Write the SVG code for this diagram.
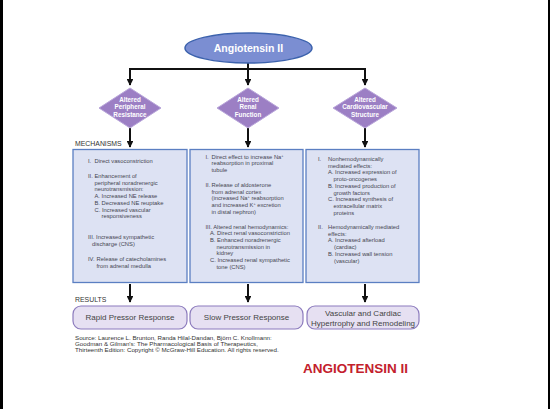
<svg xmlns="http://www.w3.org/2000/svg" width="550" height="409" viewBox="0 0 550 409">
<defs>
<style>
.t{font-family:"Liberation Sans",Arial,sans-serif;font-size:5.8px;fill:#464652}
.d{font-family:"Liberation Sans",Arial,sans-serif;font-size:6.3px;font-weight:bold;fill:#ffffff;text-anchor:middle}
.lbl{font-family:"Liberation Sans",Arial,sans-serif;font-size:6.9px;fill:#333}
.res{font-family:"Liberation Sans",Arial,sans-serif;font-size:8px;fill:#444;text-anchor:middle}
.src{font-family:"Liberation Sans",Arial,sans-serif;font-size:6.2px;fill:#333}
.box{fill:#dde2f3;stroke:#5b7fc2;stroke-width:1.3}
.rbox{fill:#e6e0f2;stroke:#8c7bbd;stroke-width:1.2}
.dia{fill:#9c7fc4;stroke:#b9a6da;stroke-width:1}
.ln{stroke:#111;stroke-width:2;fill:none}
</style>
<marker id="ah" viewBox="0 0 10 10" refX="9" refY="5" markerWidth="3.4" markerHeight="3.4" orient="auto" markerUnits="strokeWidth">
<path d="M0,0 L10,5 L0,10 z" fill="#111"/>
</marker>
</defs>
<rect x="0" y="0" width="550" height="409" fill="#ffffff"/>
<rect x="0" y="0" width="3" height="409" fill="#000"/>
<rect x="548" y="0" width="2" height="409" fill="#000"/>

<g id="connectors">
<path class="ln" d="M248,63 V69 M129,69 H365"/>
<path class="ln" d="M130,68 V85" marker-end="url(#ah)"/>
<path class="ln" d="M248,68 V85" marker-end="url(#ah)"/>
<path class="ln" d="M365,68 V85" marker-end="url(#ah)"/>
<path class="ln" d="M130,128 V147" marker-end="url(#ah)"/>
<path class="ln" d="M248,128 V147" marker-end="url(#ah)"/>
<path class="ln" d="M365,128 V147" marker-end="url(#ah)"/>
<path class="ln" d="M130,284 V302" marker-end="url(#ah)"/>
<path class="ln" d="M248,284 V302" marker-end="url(#ah)"/>
<path class="ln" d="M365,284 V302" marker-end="url(#ah)"/>
</g>

<g id="angiotensin">
<ellipse cx="248.5" cy="48" rx="63.5" ry="15" fill="#7b8ed2" stroke="#3c62ad" stroke-width="1.5"/>
<text x="248.5" y="51.7" text-anchor="middle" style="font-family:'Liberation Sans',Arial,sans-serif;font-size:10.5px;font-weight:bold;fill:#fff">Angiotensin II</text>
</g>

<g id="d-peripheral">
<polygon class="dia" points="130,88 161,108 130,128 99,108"/>
<text class="d" x="130" y="101.5">Altered</text>
<text class="d" x="130" y="109.3">Peripheral</text>
<text class="d" x="130" y="117">Resistance</text>
</g>
<g id="d-renal">
<polygon class="dia" points="248,88 279,108 248,128 217,108"/>
<text class="d" x="248" y="101.5">Altered</text>
<text class="d" x="248" y="109.3">Renal</text>
<text class="d" x="248" y="117">Function</text>
</g>
<g id="d-cardio">
<polygon class="dia" points="365,88 397,108 365,128 333,108"/>
<text class="d" x="365" y="101.5">Altered</text>
<text class="d" x="365" y="109.3">Cardiovascular</text>
<text class="d" x="365" y="117">Structure</text>
</g>

<text class="lbl" x="75" y="145.5">MECHANISMS</text>

<g id="box-mech1">
<rect class="box" x="73" y="149.5" width="114" height="133"/>
<text class="t" x="88" y="162.5">I.</text><text class="t" x="94.5" y="162.5">Direct vasoconstriction</text>
<text class="t" x="88" y="178">II.</text><text class="t" x="94.5" y="178">Enhancement of</text>
<text class="t" x="94.5" y="184.7">peripheral noradrenergic</text>
<text class="t" x="94.5" y="191.4">neurotransmission:</text>
<text class="t" x="94.5" y="198.1">A. Increased NE release</text>
<text class="t" x="94.5" y="204.8">B. Decreased NE reuptake</text>
<text class="t" x="94.5" y="211.5">C. Increased vascular</text>
<text class="t" x="101.5" y="218.2">responsiveness</text>
<text class="t" x="88" y="239">III. Increased sympathetic</text>
<text class="t" x="92" y="245.7">discharge (CNS)</text>
<text class="t" x="88" y="261">IV.</text><text class="t" x="96.5" y="261">Release of catecholamines</text>
<text class="t" x="96.5" y="267.7">from adrenal medulla</text>
</g>

<g id="box-mech2">
<rect class="box" x="190" y="149.5" width="113" height="133"/>
<text class="t" x="205.5" y="158.5">I.</text><text class="t" x="211.5" y="158.5">Direct effect to increase Na<tspan dy="-2" font-size="3.8">+</tspan></text>
<text class="t" x="211.5" y="165.2">reabsorption in proximal</text>
<text class="t" x="211.5" y="171.9">tubule</text>
<text class="t" x="205.5" y="186.8">II.</text><text class="t" x="211.5" y="186.8">Release of aldosterone</text>
<text class="t" x="211.5" y="193.5">from adrenal cortex</text>
<text class="t" x="211.5" y="200.2">(increased Na<tspan dy="-2" font-size="3.8">+</tspan><tspan dy="2"> reabsorption</tspan></text>
<text class="t" x="211.5" y="206.9">and increased K<tspan dy="-2" font-size="3.8">+</tspan><tspan dy="2"> excretion</tspan></text>
<text class="t" x="211.5" y="213.6">in distal nephron)</text>
<text class="t" x="205.5" y="228.5">III. Altered renal hemodynamics:</text>
<text class="t" x="210" y="235.2">A. Direct renal vasoconstriction</text>
<text class="t" x="210" y="241.9">B. Enhanced noradrenergic</text>
<text class="t" x="216.5" y="248.6">neurotransmission in</text>
<text class="t" x="216.5" y="255.3">kidney</text>
<text class="t" x="210" y="262">C. Increased renal sympathetic</text>
<text class="t" x="216.5" y="268.7">tone (CNS)</text>
</g>

<g id="box-mech3">
<rect class="box" x="306" y="149.5" width="113" height="133"/>
<text class="t" x="318" y="161">I.</text><text class="t" x="328" y="161">Nonhemodynamically</text>
<text class="t" x="328" y="167.7">mediated effects:</text>
<text class="t" x="328" y="174.4">A. Increased expression of</text>
<text class="t" x="333.5" y="181.1">proto-oncogenes</text>
<text class="t" x="328" y="187.8">B. Increased production of</text>
<text class="t" x="333.5" y="194.5">growth factors</text>
<text class="t" x="328" y="201.2">C. Increased synthesis of</text>
<text class="t" x="333.5" y="207.9">extracellular matrix</text>
<text class="t" x="333.5" y="214.6">proteins</text>
<text class="t" x="318" y="229">II.</text><text class="t" x="328" y="229">Hemodynamically mediated</text>
<text class="t" x="328" y="235.7">effects:</text>
<text class="t" x="328" y="242.4">A. Increased afterload</text>
<text class="t" x="334" y="249.1">(cardiac)</text>
<text class="t" x="328" y="255.8">B. Increased wall tension</text>
<text class="t" x="334" y="262.5">(vascular)</text>
</g>

<text class="lbl" x="75" y="302">RESULTS</text>

<g id="res-rapid">
<rect class="rbox" x="73" y="306" width="114" height="23" rx="8"/>
<text class="res" x="130" y="320.3">Rapid Pressor Response</text>
</g>
<g id="res-slow">
<rect class="rbox" x="190" y="306" width="113" height="23" rx="8"/>
<text class="res" x="246.5" y="320.3">Slow Pressor Response</text>
</g>
<g id="res-vascular">
<rect class="rbox" x="307" y="306" width="112" height="23" rx="8"/>
<text class="res" x="363" y="315.5">Vascular and Cardiac</text>
<text class="res" x="363" y="325.5">Hypertrophy and Remodeling</text>
</g>

<text class="src" x="75" y="339.5">Source: Laurence L. Brunton, Randa Hilal-Dandan, Björn C. Knollmann:</text>
<text class="src" x="75" y="345.5">Goodman &amp; Gilman's: The Pharmacological Basis of Therapeutics,</text>
<text class="src" x="75" y="351.5">Thirteenth Edition: Copyright © McGraw-Hill Education. All rights reserved.</text>

<text x="303" y="373" style="font-family:'Liberation Sans',Arial,sans-serif;font-size:13.5px;font-weight:bold;fill:#c3202c">ANGIOTENSIN II</text>
</svg>
